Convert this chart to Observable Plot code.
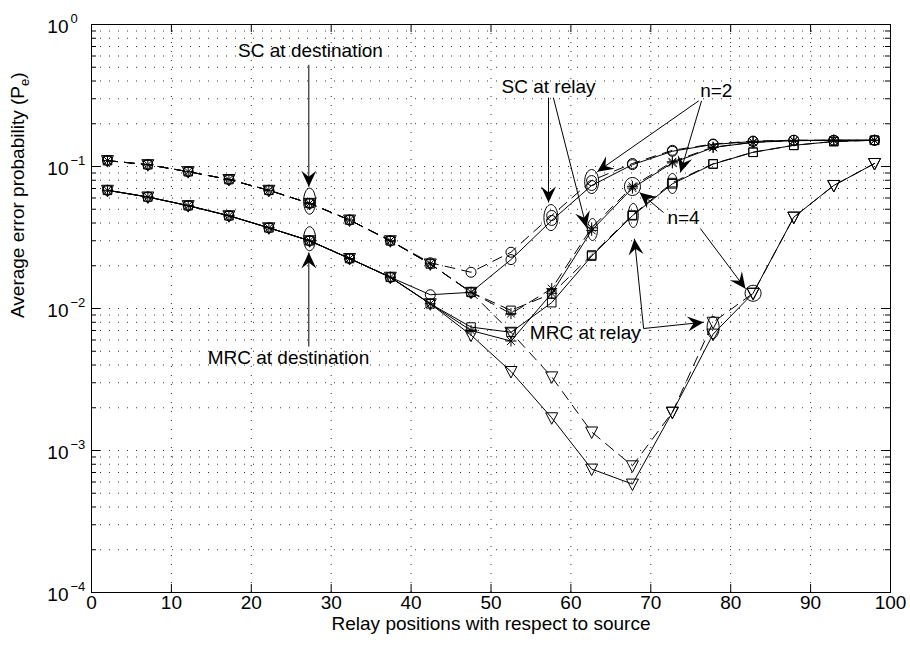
<!DOCTYPE html>
<html><head><meta charset="utf-8">
<script src="https://cdn.jsdelivr.net/npm/d3@7"></script>
<script src="https://cdn.jsdelivr.net/npm/@observablehq/plot@0.6"></script>
<style>body{margin:0;background:#fff}svg{display:block}</style>
</head><body><div id="chart"></div>
<script>
// ---------- data ----------
const positions = [2, 7.05, 12.1, 17.2, 22.2, 27.3, 32.3, 37.4, 42.4, 47.5, 52.5, 57.6, 62.6, 67.7, 72.7, 77.8, 82.8, 87.9, 92.9, 98];
// SC at relay, n=2 (circle)
const circSCdest  = [0.110, 0.103, 0.092, 0.081, 0.068, 0.055, 0.042, 0.030, 0.021, 0.018, 0.0249, 0.0452, 0.0796, 0.105, 0.130, 0.144, 0.151, 0.153, 0.153, 0.153];
const circMRCdest = [0.068, 0.061, 0.053, 0.045, 0.037, 0.030, 0.0225, 0.0166, 0.0125, 0.013, 0.0221, 0.0417, 0.0735, 0.103, 0.128, 0.143, 0.150, 0.153, 0.153, 0.153];
// SC at relay, n=4 (asterisk)
const starSCdest  = [0.110, 0.103, 0.092, 0.081, 0.068, 0.055, 0.042, 0.030, 0.0206, 0.013, 0.0092, 0.0138, 0.037, 0.0725, 0.108, 0.137, 0.148, 0.152, 0.153, 0.153];
const starMRCdest = [0.068, 0.061, 0.053, 0.045, 0.037, 0.030, 0.0225, 0.0166, 0.0108, 0.0070, 0.0059, 0.0128, 0.0355, 0.0705, 0.106, 0.136, 0.148, 0.152, 0.153, 0.153];
// MRC at relay, n=2 (square)
const sqSCdest    = [0.110, 0.103, 0.092, 0.081, 0.068, 0.055, 0.042, 0.030, 0.0206, 0.013, 0.0097, 0.0127, 0.0238, 0.0455, 0.077, 0.1045, 0.126, 0.141, 0.150, 0.153];
const sqMRCdest   = [0.068, 0.061, 0.053, 0.045, 0.037, 0.030, 0.0225, 0.0166, 0.0108, 0.0074, 0.0068, 0.011, 0.0234, 0.0450, 0.0755, 0.104, 0.126, 0.141, 0.150, 0.153];
// MRC at relay, n=4 (triangle down)
const triSCdest   = [0.110, 0.103, 0.092, 0.081, 0.068, 0.055, 0.042, 0.030, 0.0206, 0.013, 0.0068, 0.0033, 0.00135, 0.00078, 0.00186, 0.0080, 0.0128, 0.044, 0.0735, 0.105];
const triMRCdest  = [0.068, 0.061, 0.053, 0.045, 0.037, 0.030, 0.0225, 0.0166, 0.0108, 0.0065, 0.0036, 0.0017, 0.00074, 0.00058, 0.00186, 0.0066, 0.0128, 0.044, 0.0735, 0.105];

const xTicks = [0, 10, 20, 30, 40, 50, 60, 70, 80, 90, 100];
const xGrid = [10, 20, 30, 40, 50, 60, 70, 80, 90];
const yTicks = [1, 0.1, 0.01, 0.001, 0.0001];
const yTickExp = ["0", "\u22121", "\u22122", "\u22123", "\u22124"];
const xLabel = "Relay positions with respect to source";
const yLabel = "Average error probability (P";

// annotations (data coordinates)
const labels = [
  {x: 27.4, y: 0.656, text: "SC at destination"},
  {x: 24.65, y: 0.00452, text: "MRC at destination"},
  {x: 57.2, y: 0.366, text: "SC at relay"},
  {x: 78.2, y: 0.343, text: "n=2"},
  {x: 74.1, y: 0.0437, text: "n=4"},
  {x: 61.8, y: 0.00678, text: "MRC at relay"}
];
const arrows = [
  {x1: 27.2, y1: 0.52, x2: 27.2, y2: 0.072},
  {x1: 27.2, y1: 0.0054, x2: 27.2, y2: 0.0248},
  {x1: 57.2, y1: 0.306, x2: 57.2, y2: 0.0558},
  {x1: 57.8, y1: 0.306, x2: 61.95, y2: 0.0372},
  {x1: 76.0, y1: 0.29, x2: 63.3, y2: 0.092},
  {x1: 76.35, y1: 0.29, x2: 73.7, y2: 0.0907},
  {x1: 71.6, y1: 0.0474, x2: 68.6, y2: 0.0656},
  {x1: 76.2, y1: 0.0366, x2: 81.85, y2: 0.0138},
  {x1: 69.1, y1: 0.00723, x2: 67.95, y2: 0.031},
  {x1: 69.1, y1: 0.00723, x2: 76.6, y2: 0.008}
];
const ellipses = [
  {x: 27.3, y: 0.057, rx: 6, ry: 13},
  {x: 27.3, y: 0.031, rx: 6, ry: 12},
  {x: 57.5, y: 0.0437, rx: 7, ry: 13},
  {x: 62.7, y: 0.036, rx: 5, ry: 11},
  {x: 62.6, y: 0.0784, rx: 7, ry: 12},
  {x: 72.7, y: 0.0759, rx: 5, ry: 10},
  {x: 67.7, y: 0.0723, rx: 8, ry: 9},
  {x: 67.8, y: 0.0452, rx: 5, ry: 12},
  {x: 77.8, y: 0.00735, rx: 6, ry: 11},
  {x: 82.8, y: 0.0128, rx: 8, ry: 8}
];

// ---------- symbols ----------
const symCircle = {draw(c) { const r = 5; c.moveTo(r, 0); c.arc(0, 0, r, 0, 2 * Math.PI); }};
const symSquare = {draw(c) { const h = 4.3; c.rect(-h, -h, 2 * h, 2 * h); }};
const symTri = {draw(c) { c.moveTo(-6, -5); c.lineTo(6, -5); c.lineTo(0, 6.5); c.closePath(); }};
const symStar = {draw(c) { const r = 5.5, d = r * 0.7071;
  c.moveTo(0, -r); c.lineTo(0, r); c.moveTo(-r, 0); c.lineTo(r, 0);
  c.moveTo(-d, -d); c.lineTo(d, d); c.moveTo(-d, d); c.lineTo(d, -d); }};
const arrowHead = {draw(c) { c.moveTo(0, 0); c.lineTo(7.5, 16); c.lineTo(0, 10); c.lineTo(-7.5, 16); c.closePath(); }};
function ellipseSym(rx, ry) {
  const k = 0.5523;
  return {draw(c) {
    c.moveTo(rx, 0);
    c.bezierCurveTo(rx, ry * k, rx * k, ry, 0, ry);
    c.bezierCurveTo(-rx * k, ry, -rx, ry * k, -rx, 0);
    c.bezierCurveTo(-rx, -ry * k, -rx * k, -ry, 0, -ry);
    c.bezierCurveTo(rx * k, -ry, rx, -ry * k, rx, 0);
    c.closePath();
  }};
}

// ---------- layout ----------
const W = 910, H = 645, mL = 91, mR = 20, mT = 24, mB = 53;
const frameW = W - mL - mR, frameH = H - mT - mB;
const sx = d3.scaleLinear([0, 100], [mL, W - mR]);
const sy = d3.scaleLog([1e-4, 1], [H - mB, mT]);
const angle = d => { const dx = sx(d.x2) - sx(d.x1), dy = sy(d.y2) - sy(d.y1); return Math.atan2(dx, -dy) * 180 / Math.PI; };

const yMajorInner = [0.1, 0.01, 0.001];
const yMinor = [];
for (const dec of [1e-4, 1e-3, 1e-2, 1e-1]) for (let m = 2; m <= 9; m++) yMinor.push(m * dec);
const yGrid = yMajorInner.concat(yMinor);

const series = [
  {v: circSCdest, sym: symCircle, dash: true}, {v: circMRCdest, sym: symCircle, dash: false},
  {v: starSCdest, sym: symStar, dash: true}, {v: starMRCdest, sym: symStar, dash: false},
  {v: sqSCdest, sym: symSquare, dash: true}, {v: sqMRCdest, sym: symSquare, dash: false},
  {v: triSCdest, sym: symTri, dash: true}, {v: triMRCdest, sym: symTri, dash: false}
];

const FONT = "'Liberation Sans', Arial, Helvetica, sans-serif";
const marks = [];
// grid
marks.push(Plot.ruleX(xGrid, {x: d => d, stroke: "#333", strokeWidth: 1, strokeDasharray: "1,8"}));
marks.push(Plot.ruleY(yGrid, {y: d => d, stroke: "#333", strokeWidth: 1, strokeDasharray: "1,8"}));
// ticks
marks.push(Plot.ruleX(xTicks, {x: d => d, insetTop: frameH - 8, stroke: "black"}));
marks.push(Plot.ruleX(xTicks, {x: d => d, insetBottom: frameH - 8, stroke: "black"}));
marks.push(Plot.ruleY(yTicks, {y: d => d, insetRight: frameW - 9, stroke: "black"}));
marks.push(Plot.ruleY(yTicks, {y: d => d, insetLeft: frameW - 9, stroke: "black"}));
marks.push(Plot.ruleY(yMinor, {y: d => d, insetRight: frameW - 5, stroke: "black"}));
marks.push(Plot.ruleY(yMinor, {y: d => d, insetLeft: frameW - 5, stroke: "black"}));
marks.push(Plot.frame({stroke: "black", strokeWidth: 1}));
// series
for (const s of series) {
  const data = positions.map((x, i) => ({x, y: s.v[i]}));
  const lineOpts = {x: "x", y: "y", stroke: "black", strokeWidth: 1};
  if (s.dash) lineOpts.strokeDasharray = "10,7";
  marks.push(Plot.line(data, lineOpts));
  marks.push(Plot.dot(data, {x: "x", y: "y", symbol: s.sym, r: 5, stroke: "black", fill: "none", strokeWidth: 1}));
}
// annotations
for (const e of ellipses) {
  marks.push(Plot.dot([e], {x: "x", y: "y", symbol: ellipseSym(e.rx, e.ry), r: 5, stroke: "black", fill: "none", strokeWidth: 1}));
}
marks.push(Plot.link(arrows, {x1: "x1", y1: "y1", x2: "x2", y2: "y2", stroke: "black", strokeWidth: 1}));
marks.push(Plot.dot(arrows, {x: "x2", y: "y2", symbol: arrowHead, r: 5, fill: "black", stroke: "none", rotate: angle}));
marks.push(Plot.text(labels, {x: "x", y: "y", text: "text", fontSize: 19, fill: "black"}));
// axis labels
marks.push(Plot.text(xTicks, {x: d => d, text: d => String(d), frameAnchor: "bottom", dy: 16, fontSize: 19, fill: "black"}));
marks.push(Plot.text(yTicks, {y: d => d, text: () => "10", frameAnchor: "left", dx: -23, dy: 2, textAnchor: "end", fontSize: 19, fill: "black"}));
marks.push(Plot.text(yTicks, {y: d => d, text: (d, i) => yTickExp[i], frameAnchor: "left", dx: -21, dy: -6, textAnchor: "start", fontSize: 13, fill: "black"}));
marks.push(Plot.text([xLabel], {text: d => d, frameAnchor: "bottom", dy: 37, fontSize: 19, fill: "black"}));
marks.push(Plot.text([yLabel], {text: d => d, frameAnchor: "left", dx: -74, dy: 9.5, rotate: -90, fontSize: 19, fill: "black"}));

const svg = Plot.plot({
  width: W, height: H,
  marginLeft: mL, marginRight: mR, marginTop: mT, marginBottom: mB,
  x: {domain: [0, 100], axis: null},
  y: {type: "log", domain: [1e-4, 1], axis: null},
  style: {fontFamily: FONT, background: "white", color: "black"},
  marks
});

// subscript e in the y label
const ns = "http://www.w3.org/2000/svg";
svg.querySelectorAll("text").forEach(t => {
  if (t.textContent === yLabel) {
    const sub = document.createElementNS(ns, "tspan");
    sub.setAttribute("font-size", "13");
    sub.setAttribute("dy", "5");
    sub.textContent = "e";
    const close = document.createElementNS(ns, "tspan");
    close.setAttribute("dy", "-5");
    close.textContent = ")";
    t.appendChild(sub);
    t.appendChild(close);
  }
});
document.getElementById("chart").appendChild(svg);
</script>
</body></html>
